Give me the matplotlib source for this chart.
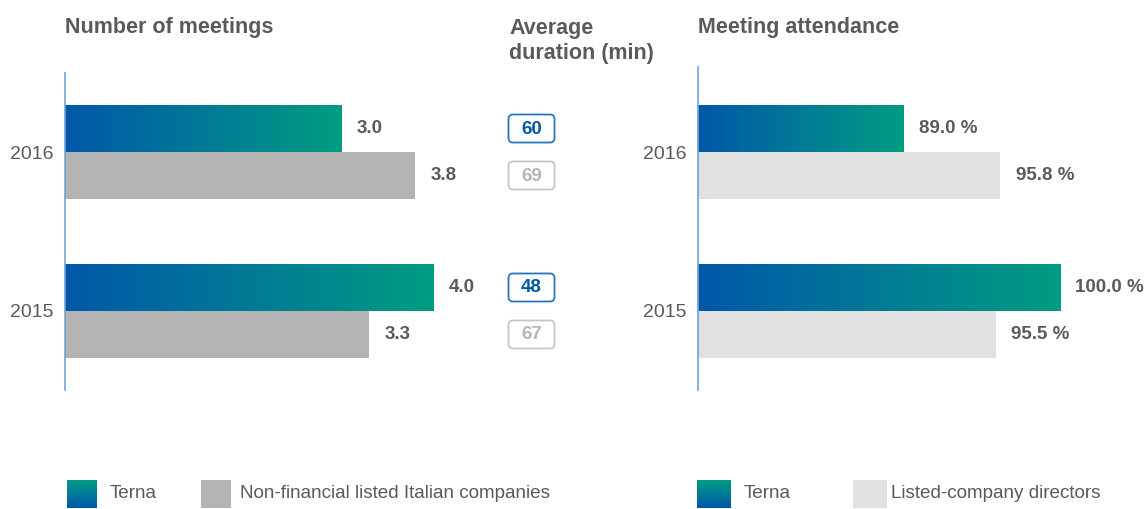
import numpy as np
import matplotlib.pyplot as plt
from matplotlib.colors import LinearSegmentedColormap
from matplotlib.patches import FancyBboxPatch

# datos
years = ["2016", "2015"]
meetings_terna = [3.0, 4.0]
meetings_peers = [3.8, 3.3]
duration_terna = [60, 48]
duration_peers = [69, 67]
attendance_terna = [89.0, 100.0]
attendance_peers = [95.8, 95.5]

W, H = 1148, 509
BLUE = "#0058A9"
GREEN = "#009C82"
GRAY = "#B3B3B3"
LIGHT = "#E1E1E1"
TXT = "#5A5A5A"
SPINE = "#6FA3D6"
grad = LinearSegmentedColormap.from_list("terna", [BLUE, GREEN])

plt.rcParams["font.family"] = ["Liberation Sans", "DejaVu Sans"]

fig = plt.figure(figsize=(W / 100, H / 100), dpi=100)


def px_axes(x0, y0, x1, y1):
    # caja en pixeles (origen arriba a la izquierda)
    return fig.add_axes([x0 / W, 1 - y1 / H, (x1 - x0) / W, (y1 - y0) / H])


bar_h = 47 / 159
pos = np.arange(len(years))
LBL = 13.5


def bar_panel(ax, terna, peers, peer_color, fmt):
    x0 = ax.get_xlim()[0]
    for i, (t, p) in enumerate(zip(terna, peers)):
        y = pos[i]
        ax.imshow(np.linspace(0, 1, 256).reshape(1, -1), cmap=grad, aspect="auto",
                  extent=[x0, t, y, y - bar_h], zorder=2, interpolation="bilinear")
        ax.barh(y + bar_h / 2, p - x0, left=x0, height=bar_h, color=peer_color, zorder=2)
        ax.annotate(fmt(t), (t, y - bar_h / 2), xytext=(11, 0), textcoords="offset points",
                    va="center", ha="left", fontsize=LBL, fontweight="bold", color=TXT)
        ax.annotate(fmt(p), (p, y + bar_h / 2), xytext=(11, 0), textcoords="offset points",
                    va="center", ha="left", fontsize=LBL, fontweight="bold", color=TXT)
    ax.set_yticks(pos)
    ax.set_yticklabels(years, fontsize=14, color=TXT)
    ax.tick_params(axis="y", length=0, pad=8)
    ax.set_xticks([])
    for s in ["top", "right", "bottom"]:
        ax.spines[s].set_visible(False)
    ax.spines["left"].set_color(SPINE)
    ax.spines["left"].set_linewidth(1.2)
    ax.spines["left"].set_zorder(5)
    ax.set_facecolor("none")


# panel izquierdo
ax1 = px_axes(65, 73, 495, 390)
ax1.set_xlim(0, 430 / 92.2)
ax1.set_ylim(1.497, -0.497)
bar_panel(ax1, meetings_terna, meetings_peers, GRAY, lambda v: f"{v:.1f}")

# panel derecho
ax2 = px_axes(698, 67, 1140, 390)
ax2.set_xlim(74.6, 74.6 + 442 / 14.26)
ax2.set_ylim(1.497, -0.535)
bar_panel(ax2, attendance_terna, attendance_peers, LIGHT, lambda v: f"{v:.1f} %")

# capa de anotaciones en pixeles
ov = fig.add_axes([0, 0, 1, 1], zorder=-1)
ov.set_xlim(0, W)
ov.set_ylim(H, 0)
ov.axis("off")

fig.canvas.draw()


def to_px(ax, y):
    return H - ax.transData.transform((0, y))[1]


# cajas de duracion
for i in range(len(years)):
    for val, yoff, ec, tc in [(duration_terna[i], -bar_h / 2, "#2A74BE", BLUE),
                              (duration_peers[i], bar_h / 2, "#C6C6C6", "#B5B5B5")]:
        yc = to_px(ax1, pos[i] + yoff)
        ov.add_patch(FancyBboxPatch((508.5, yc - 14), 46, 28,
                                    boxstyle="round,pad=0,rounding_size=4.5",
                                    fc="white", ec=ec, lw=1.3))
        ov.text(531.5, yc + 0.5, str(val), ha="center", va="center", fontsize=LBL,
                fontweight="bold", color=tc)

# titulos
TT = 15.5
ov.text(65, 27.5, "Number of meetings", fontsize=TT, fontweight="bold", color=TXT, va="center")
ov.text(509, 41, "Average\nduration (min)", fontsize=TT, fontweight="bold", color=TXT,
        va="center", linespacing=1.25)
ov.text(698, 27.5, "Meeting attendance", fontsize=TT, fontweight="bold", color=TXT, va="center")

# leyendas
vgrad = np.linspace(1, 0, 256).reshape(-1, 1)
for x0, w, lab_t, x2, lab_p, col, x3 in [(67, 30, "Terna", 201, "Non-financial listed Italian companies", GRAY, 240),
                                         (697, 34, "Terna", 853, "Listed-company directors", LIGHT, 891)]:
    ov.imshow(vgrad, cmap=grad, aspect="auto", extent=[x0, x0 + w, 508, 480], interpolation="bilinear")
    ov.text(x0 + w + 13, 494, lab_t, fontsize=13.6, color=TXT, va="center")
    ov.add_patch(plt.Rectangle((x2, 480), w, 28, color=col, lw=0))
    ov.text(x3, 494, lab_p, fontsize=13.6, color=TXT, va="center")
ov.set_xlim(0, W)
ov.set_ylim(H, 0)

fig.savefig("out.png", dpi=100)
